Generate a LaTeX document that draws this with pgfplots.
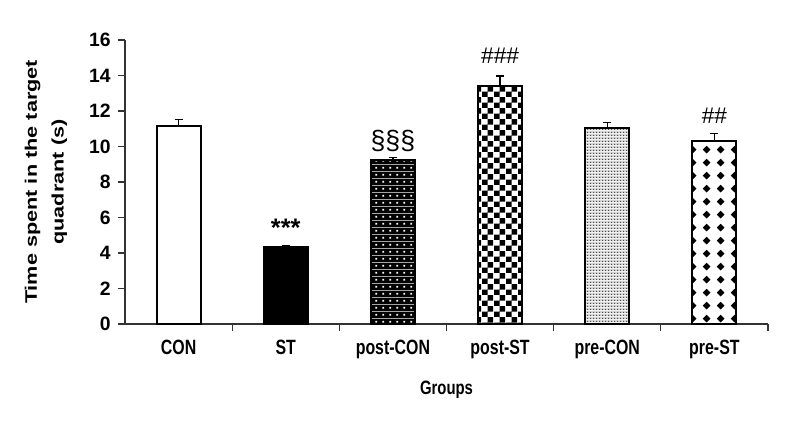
\documentclass[border=0pt]{standalone}
\usepackage{fontspec}
\setmainfont{Liberation Sans}
\newfontfamily\condsans[FakeStretch=0.77]{Liberation Sans}
\newfontfamily\widesans[FakeStretch=1.3]{Liberation Sans}
\usepackage{pgfplots}
\pgfplotsset{compat=1.18}
\usetikzlibrary{patterns.meta}

\newcommand\dshape[2]{%
  \pgfpathmoveto{\pgfpoint{#1}{#2-3.0pt}}%
  \pgfpathlineto{\pgfpoint{#1+3.0pt}{#2}}%
  \pgfpathlineto{\pgfpoint{#1}{#2+3.0pt}}%
  \pgfpathlineto{\pgfpoint{#1-3.0pt}{#2}}%
  \pgfpathclose
  \pgfpathcircle{\pgfpoint{#1}{#2}}{2.2pt}%
}

\pgfdeclarepattern{
  name=Checker, type=uncolored,
  bottom left={\pgfpoint{0pt}{0pt}}, top right={\pgfpoint{8.6pt}{8.6pt}},
  tile size={\pgfpoint{8.6pt}{8.6pt}},
  code={
    \pgfpathrectangle{\pgfpoint{0pt}{0pt}}{\pgfpoint{4.3pt}{4.3pt}}
    \pgfpathrectangle{\pgfpoint{4.3pt}{4.3pt}}{\pgfpoint{4.3pt}{4.3pt}}
    \pgfusepath{fill}
  }
}
\pgfdeclarepattern{
  name=BlackWhiteDots, type=colored,
  bottom left={\pgfpoint{0pt}{0pt}}, top right={\pgfpoint{5pt}{5pt}},
  tile size={\pgfpoint{5pt}{5pt}},
  code={
    \pgfsetfillcolor{black}
    \pgfpathrectangle{\pgfpoint{-0.1pt}{-0.1pt}}{\pgfpoint{5.2pt}{5.2pt}}
    \pgfusepath{fill}
    \pgfsetfillcolor{white}
    \pgfpathrectangle{\pgfpoint{1.9pt}{1.9pt}}{\pgfpoint{1.3pt}{1.3pt}}
    \pgfusepath{fill}
  }
}
\pgfdeclarepattern{
  name=GrayFine, type=colored,
  bottom left={\pgfpoint{0pt}{0pt}}, top right={\pgfpoint{2pt}{2pt}},
  tile size={\pgfpoint{2pt}{2pt}},
  code={
    \pgfsetfillcolor{black!15}
    \pgfpathrectangle{\pgfpoint{-0.05pt}{-0.05pt}}{\pgfpoint{2.1pt}{2.1pt}}
    \pgfusepath{fill}
    \pgfsetfillcolor{black!70}
    \pgfpathrectangle{\pgfpoint{0pt}{0pt}}{\pgfpoint{1pt}{1pt}}
    \pgfusepath{fill}
  }
}
\pgfdeclarepattern{
  name=Diamonds, type=uncolored,
  bottom left={\pgfpoint{0pt}{0pt}}, top right={\pgfpoint{10.5pt}{10pt}},
  tile size={\pgfpoint{10.5pt}{10pt}},
  code={
    \dshape{5.25pt}{5pt}
    \pgfusepath{fill}
  }
}

\begin{document}
\begin{tikzpicture}
\useasboundingbox (-93.75pt,-80.25pt) rectangle (498pt,243pt);
\begin{axis}[
  at={(0,0)}, anchor=south west,
  scale only axis, width=482.25pt, height=213pt,
  xmin=-0.5, xmax=5.5, ymin=0, ymax=16,
  axis x line*=bottom, axis y line*=left,
  axis line style={line width=0.8pt, black!80, -},
  ybar, bar width=33pt, bar shift=0pt,
  xtick={0,...,5},
  xticklabels={CON, ST, post-CON, post-ST, pre-CON, pre-ST},
  minor xtick={0.5,1.5,...,5.5},
  ytick={0,2,...,16},
  tick align=outside,
  major tick length=5.25pt,
  minor tick length=5.25pt,
  x tick style={draw=none},
  minor x tick style={draw=black!80, line width=0.8pt},
  y tick style={black!80, line width=0.8pt},
  /pgf/number format/assume math mode=true,
  yticklabel style={font=\fontsize{14.5}{16}\selectfont\bfseries, xshift=-2pt},
  xticklabel style={font=\condsans\bfseries\fontsize{15.5}{17}\selectfont, yshift=-3pt},
  xlabel={Groups},
  xlabel style={at={(axis description cs:0.5,-0.2324)}, anchor=center, font=\condsans\bfseries\fontsize{14.5}{16}\selectfont},
  ylabel={Time spent in the target\\quadrant (s)},
  ylabel style={at={(axis description cs:-0.1229,0.5)}, anchor=center, align=center, font=\widesans\bfseries\fontsize{12.5}{20}\selectfont},
  error bars/y dir=plus, error bars/y explicit,
  error bars/error bar style={line width=1.1pt, black},
  error bars/error mark options={rotate=90, mark size=3pt, line width=1.1pt, black},
  clip=false,
]
\addplot[draw=black, line width=1.5pt, fill=white] coordinates {(0,11.15) +- (0,0.38)};
\addplot[draw=black, line width=1.5pt, fill=black] coordinates {(1,4.32) +- (0,0.1)};
\addplot[draw=black, line width=1.5pt, pattern=BlackWhiteDots] coordinates {(2,9.22) +- (0,0.16)};
\addplot[draw=black, line width=1.5pt, pattern=Checker, pattern color=black] coordinates {(3,13.4) +- (0,0.56)};
\addplot[draw=black, line width=1.5pt, pattern=GrayFine] coordinates {(4,11.06) +- (0,0.3)};
\addplot[draw=black, line width=1.5pt, pattern=Diamonds, pattern color=black] coordinates {(5,10.31) +- (0,0.43)};
\node[anchor=base, font=\fontsize{19}{21}\selectfont\bfseries] at (axis cs:1,4.95) {***};
\node[anchor=base, font=\fontsize{20}{22}\selectfont] at (axis cs:2,9.85) {§§§};
\node[anchor=base, font=\fontsize{17}{19}\selectfont] at (axis cs:3,14.7) {\#\#\#};
\node[anchor=base, font=\fontsize{17}{19}\selectfont] at (axis cs:5,11.3) {\#\#};
\end{axis}
\end{tikzpicture}
\end{document}
